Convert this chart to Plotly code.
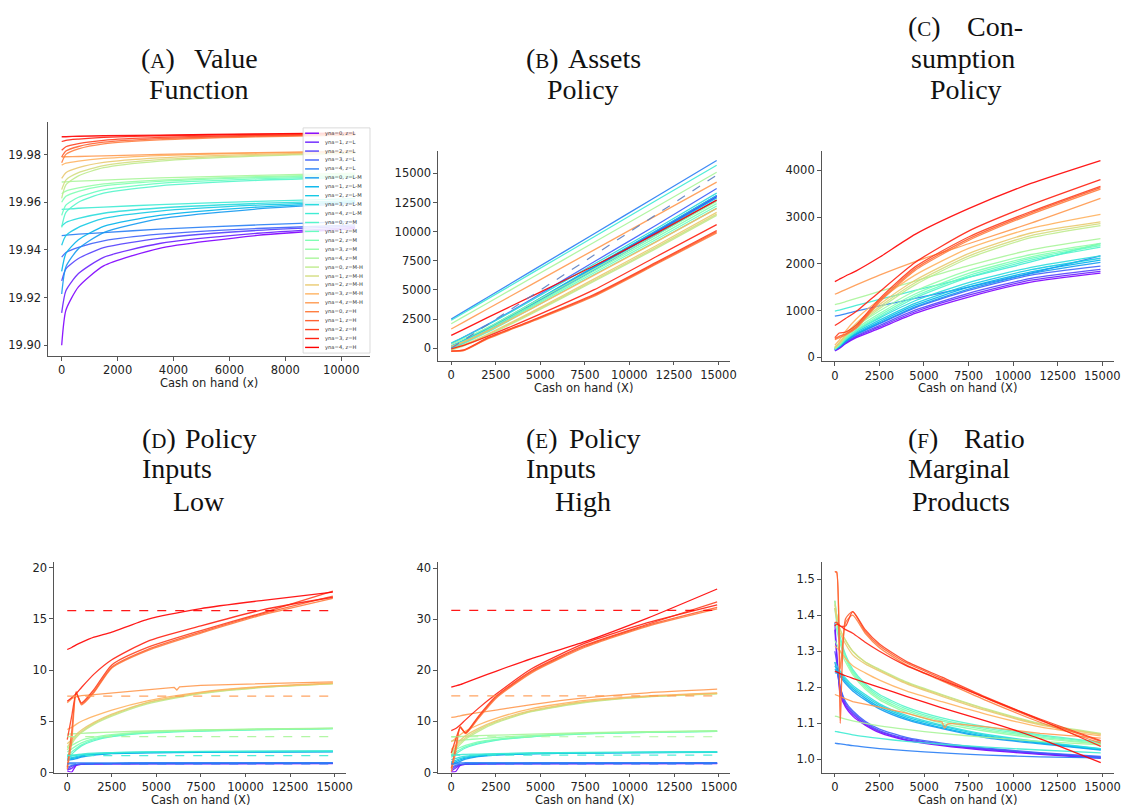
import math
import plotly.graph_objects as go

FIG_W, FIG_H = 1128, 809

YNA = [0, 1, 2, 3, 4]
Z_LEVELS = ["L", "L-M", "M", "M-H", "H"]

# ---------------- (A) value function ----------------
A_X = [0, 150, 600, 1500, 3500, 7000, 10500]
A_V = [
    [19.9000, 19.9147, 19.9245, 19.9333, 19.9407, 19.9461, 19.9490],
    [19.9136, 19.9229, 19.9301, 19.9369, 19.9427, 19.9470, 19.9495],
    [19.9270, 19.9321, 19.9364, 19.9410, 19.9449, 19.9482, 19.9500],
    [19.9370, 19.9389, 19.9411, 19.9438, 19.9466, 19.9490, 19.9505],
    [19.9460, 19.9462, 19.9466, 19.9473, 19.9487, 19.9505, 19.9520],
    [19.9215, 19.9329, 19.9405, 19.9473, 19.9530, 19.9572, 19.9595],
    [19.9310, 19.9385, 19.9443, 19.9499, 19.9545, 19.9580, 19.9600],
    [19.9420, 19.9460, 19.9495, 19.9532, 19.9563, 19.9588, 19.9603],
    [19.9500, 19.9515, 19.9532, 19.9554, 19.9576, 19.9595, 19.9607],
    [19.9570, 19.9571, 19.9575, 19.9580, 19.9590, 19.9604, 19.9615],
    [19.9495, 19.9558, 19.9600, 19.9638, 19.9669, 19.9692, 19.9705],
    [19.9545, 19.9588, 19.9621, 19.9652, 19.9679, 19.9698, 19.9710],
    [19.9600, 19.9625, 19.9646, 19.9669, 19.9688, 19.9704, 19.9713],
    [19.9636, 19.9647, 19.9660, 19.9677, 19.9693, 19.9708, 19.9717],
    [19.9685, 19.9686, 19.9689, 19.9693, 19.9702, 19.9713, 19.9722],
    [19.9616, 19.9673, 19.9711, 19.9745, 19.9773, 19.9794, 19.9805],
    [19.9653, 19.9693, 19.9724, 19.9754, 19.9779, 19.9797, 19.9808],
    [19.9700, 19.9724, 19.9745, 19.9767, 19.9786, 19.9801, 19.9810],
    [19.9756, 19.9764, 19.9773, 19.9784, 19.9796, 19.9806, 19.9812],
    [19.9790, 19.9791, 19.9792, 19.9795, 19.9801, 19.9808, 19.9814],
    [19.9766, 19.9801, 19.9824, 19.9845, 19.9862, 19.9875, 19.9882],
    [19.9790, 19.9815, 19.9834, 19.9852, 19.9867, 19.9878, 19.9885],
    [19.9818, 19.9833, 19.9846, 19.9860, 19.9872, 19.9881, 19.9887],
    [19.9855, 19.9860, 19.9865, 19.9872, 19.9879, 19.9885, 19.9889],
    [19.9875, 19.9875, 19.9877, 19.9879, 19.9882, 19.9887, 19.9891],
]

# ---------------- (B) assets policy ----------------
B_X = [0, 700, 2000, 4500, 8000, 11500, 14900]
B_V = [
    [-100, 450, 1500, 3700, 6850, 9950, 13000],
    [0, 530, 1580, 3760, 6900, 10000, 13050],
    [100, 620, 1660, 3830, 6960, 10050, 13100],
    [400, 950, 2000, 4200, 7400, 10550, 13700],
    [2500, 3140, 4330, 6610, 9800, 13000, 16100],
    [0, 500, 1500, 3650, 6700, 9720, 12700],
    [100, 600, 1600, 3750, 6850, 9900, 12900],
    [200, 700, 1700, 3850, 7000, 10080, 13100],
    [450, 950, 1950, 4100, 7200, 10250, 13300],
    [2400, 3025, 4190, 6420, 9545, 12670, 15700],
    [-50, 400, 1350, 3400, 6300, 9150, 12000],
    [50, 500, 1450, 3520, 6450, 9330, 12200],
    [150, 600, 1560, 3640, 6600, 9510, 12400],
    [350, 800, 1750, 3820, 6780, 9690, 12600],
    [2100, 2710, 3840, 6020, 9070, 12120, 15100],
    [-150, 200, 1050, 2950, 5720, 8550, 11400],
    [-100, 250, 1110, 3020, 5810, 8650, 11500],
    [-50, 300, 1180, 3100, 5930, 8790, 11650],
    [150, 550, 1450, 3400, 6250, 9120, 12000],
    [1650, 2240, 3340, 5460, 8420, 11380, 14250],
    [-250, -200, 780, 2280, 4450, 7200, 9900],
    [-250, -180, 820, 2330, 4520, 7280, 10000],
    [-250, -150, 860, 2380, 4600, 7360, 10100],
    [-50, 250, 1000, 2600, 5000, 7850, 10600],
    [1100, 1620, 2600, 4450, 7050, 9850, 12700],
]
B_REF_X = [0, 14900]
B_REF_Y = [0, 14850]

# ---------------- (C) consumption policy ----------------
C_X = [0, 250, 600, 1200, 2500, 4500, 7500, 11000, 14900]
C_V = [
    [140, 190, 290, 420, 620, 940, 1290, 1610, 1800],
    [150, 200, 305, 440, 650, 975, 1330, 1650, 1840],
    [160, 215, 320, 460, 680, 1010, 1370, 1690, 1880],
    [170, 230, 345, 490, 720, 1060, 1430, 1760, 1950],
    [880, 900, 930, 990, 1100, 1260, 1500, 1800, 2170],
    [160, 220, 335, 490, 730, 1080, 1460, 1790, 2030],
    [170, 235, 350, 510, 760, 1115, 1500, 1830, 2080],
    [180, 250, 370, 535, 795, 1155, 1545, 1875, 2120],
    [200, 275, 400, 570, 840, 1210, 1600, 1925, 2170],
    [990, 1010, 1045, 1110, 1240, 1430, 1710, 2040, 2440],
    [170, 245, 380, 560, 860, 1270, 1710, 2080, 2360],
    [180, 260, 400, 585, 895, 1310, 1750, 2115, 2390],
    [195, 280, 425, 615, 935, 1355, 1795, 2150, 2410],
    [215, 305, 460, 660, 990, 1420, 1860, 2200, 2440],
    [1130, 1150, 1190, 1260, 1410, 1630, 1960, 2300, 2540],
    [190, 280, 440, 660, 1040, 1550, 2120, 2560, 2820],
    [200, 295, 460, 690, 1080, 1595, 2165, 2605, 2860],
    [215, 315, 490, 730, 1130, 1650, 2220, 2660, 2900],
    [260, 370, 560, 820, 1230, 1760, 2330, 2760, 3060],
    [1350, 1390, 1450, 1550, 1760, 2050, 2430, 2870, 3400],
    [380, 420, 480, 620, 1180, 1860, 2500, 3060, 3600],
    [400, 450, 500, 650, 1210, 1895, 2535, 3090, 3630],
    [420, 520, 540, 690, 1250, 1935, 2575, 3120, 3660],
    [680, 740, 830, 980, 1400, 2030, 2700, 3260, 3800],
    [1620, 1670, 1740, 1850, 2140, 2630, 3180, 3720, 4210],
]

# ---------------- (D) policy inputs, low ----------------
D_X = [0, 250, 500, 800, 1500, 2500, 4500, 7500, 11000, 14900]
D_V = [
    [0.15, 0.05, 0.70, 0.80, 0.84, 0.85, 0.86, 0.87, 0.87, 0.88],
    [0.25, 0.40, 0.75, 0.81, 0.84, 0.86, 0.87, 0.875, 0.88, 0.885],
    [0.35, 0.60, 0.78, 0.82, 0.85, 0.865, 0.875, 0.88, 0.885, 0.89],
    [0.50, 0.70, 0.80, 0.83, 0.86, 0.87, 0.88, 0.885, 0.89, 0.895],
    [0.95, 0.95, 0.95, 0.95, 0.95, 0.95, 0.955, 0.955, 0.96, 0.96],
    [1.20, 1.25, 1.35, 1.50, 1.70, 1.85, 1.93, 1.97, 2.00, 2.02],
    [1.30, 1.35, 1.45, 1.58, 1.75, 1.88, 1.95, 1.99, 2.02, 2.04],
    [1.40, 1.45, 1.55, 1.65, 1.80, 1.90, 1.97, 2.01, 2.04, 2.06],
    [1.55, 1.60, 1.68, 1.75, 1.85, 1.93, 2.00, 2.04, 2.06, 2.08],
    [1.70, 1.72, 1.75, 1.80, 1.88, 1.95, 2.02, 2.06, 2.08, 2.10],
    [1.50, 1.80, 2.20, 2.60, 3.10, 3.50, 3.85, 4.05, 4.18, 4.28],
    [1.70, 2.00, 2.35, 2.70, 3.20, 3.55, 3.88, 4.07, 4.20, 4.29],
    [2.00, 2.30, 2.60, 2.90, 3.30, 3.62, 3.92, 4.10, 4.22, 4.30],
    [2.40, 2.65, 2.90, 3.15, 3.45, 3.70, 3.97, 4.13, 4.24, 4.31],
    [3.75, 3.77, 3.80, 3.83, 3.88, 3.95, 4.05, 4.16, 4.25, 4.32],
    [2.20, 2.80, 3.40, 3.90, 4.70, 5.50, 6.70, 7.70, 8.30, 8.65],
    [2.50, 3.00, 3.55, 4.00, 4.80, 5.60, 6.80, 7.75, 8.32, 8.67],
    [2.80, 3.20, 3.70, 4.15, 4.90, 5.70, 6.85, 7.80, 8.35, 8.70],
    [4.20, 4.40, 4.70, 5.00, 5.50, 6.10, 7.00, 7.85, 8.40, 8.75],
    None,
    [0.30, 3.00, 7.90, 6.60, 7.80, 10.20, 11.90, 13.60, 15.40, 17.00],
    [0.50, 4.00, 7.80, 6.70, 7.90, 10.30, 12.00, 13.70, 15.50, 17.20],
    [3.20, 5.50, 7.70, 6.80, 8.10, 10.50, 12.20, 13.85, 15.60, 17.70],
    [6.95, 7.30, 7.70, 8.30, 9.60, 11.00, 12.80, 14.30, 15.90, 17.10],
    [12.00, 12.20, 12.45, 12.70, 13.20, 13.70, 14.95, 16.00, 16.80, 17.60],
]
D_X19 = [0, 250, 500, 800, 1500, 2500, 4500, 6000, 6150, 6300, 7500, 11000, 14900]
D_V19 = [6.8, 7.2, 7.4, 7.5, 7.6, 7.75, 8.05, 8.3, 8.05, 8.35, 8.5, 8.7, 8.85]
D_REF = [0.85, 1.65, 3.5, 7.45, 15.8]

# ---------------- (E) policy inputs, high ----------------
E_X = [0, 250, 500, 800, 1500, 2500, 4500, 7500, 11000, 14900]
E_V = [
    [0.1, 0.2, 1.4, 1.6, 1.7, 1.72, 1.74, 1.75, 1.76, 1.77],
    [0.3, 0.9, 1.5, 1.62, 1.71, 1.73, 1.75, 1.76, 1.77, 1.78],
    [0.6, 1.2, 1.55, 1.65, 1.72, 1.74, 1.76, 1.77, 1.78, 1.79],
    [1.0, 1.4, 1.6, 1.68, 1.73, 1.75, 1.77, 1.78, 1.79, 1.80],
    [1.9, 1.9, 1.9, 1.91, 1.91, 1.92, 1.92, 1.93, 1.93, 1.94],
    [1.5, 1.8, 2.2, 2.6, 3.1, 3.4, 3.65, 3.8, 3.9, 3.97],
    [1.8, 2.1, 2.45, 2.8, 3.2, 3.48, 3.7, 3.83, 3.92, 3.99],
    [2.1, 2.4, 2.7, 3.0, 3.3, 3.55, 3.74, 3.86, 3.94, 4.00],
    [2.5, 2.75, 3.0, 3.2, 3.45, 3.63, 3.79, 3.89, 3.96, 4.02],
    [3.4, 3.45, 3.5, 3.55, 3.62, 3.7, 3.82, 3.92, 3.98, 4.04],
    [3.0, 3.6, 4.2, 4.8, 5.6, 6.3, 7.0, 7.55, 7.85, 8.05],
    [3.4, 4.0, 4.5, 5.0, 5.8, 6.4, 7.05, 7.6, 7.88, 8.07],
    [4.0, 4.5, 4.9, 5.3, 6.0, 6.5, 7.1, 7.63, 7.9, 8.10],
    [6.2, 6.25, 6.3, 6.4, 6.6, 6.85, 7.25, 7.7, 7.95, 8.12],
    [7.0, 7.0, 7.05, 7.1, 7.2, 7.3, 7.5, 7.8, 8.0, 8.15],
    [3.5, 4.5, 5.5, 6.5, 8.0, 9.7, 11.9, 13.7, 14.8, 15.4],
    [4.0, 5.0, 5.9, 6.8, 8.3, 9.9, 12.0, 13.8, 14.85, 15.45],
    [4.5, 5.4, 6.3, 7.2, 8.6, 10.1, 12.15, 13.9, 14.9, 15.5],
    [6.0, 6.7, 7.4, 8.1, 9.3, 10.6, 12.5, 14.1, 15.0, 15.6],
    [10.8, 10.9, 11.1, 11.3, 11.7, 12.2, 13.3, 14.6, 15.6, 16.3],
    [0.2, 4.0, 9.0, 7.6, 10.5, 14.5, 19.5, 24.5, 28.6, 32.0],
    [0.8, 5.0, 8.9, 7.7, 10.7, 14.7, 19.7, 24.7, 28.8, 32.3],
    [3.8, 6.5, 8.8, 7.8, 10.9, 14.9, 19.9, 24.9, 29.0, 33.4],
    [8.2, 8.6, 9.3, 10.3, 12.5, 15.3, 20.3, 25.3, 29.3, 32.8],
    [16.7, 16.95, 17.2, 17.6, 18.5, 19.8, 22.3, 25.6, 30.2, 35.9],
]
E_REF = [1.7, 3.4, 7.0, 15.0, 31.7]

# ---------------- (F) ratio of marginal products ----------------
F_X = [0, 100, 300, 600, 1000, 1700, 2500, 4000, 6000, 8500, 11500, 14900]
F_V = [
    [1.38, 1.30, 1.18, 1.145, 1.12, 1.095, 1.074, 1.053, 1.038, 1.025, 1.014, 1.003],
    [1.36, 1.29, 1.19, 1.15, 1.125, 1.098, 1.077, 1.055, 1.04, 1.027, 1.016, 1.005],
    [1.30, 1.27, 1.20, 1.155, 1.13, 1.102, 1.080, 1.058, 1.042, 1.029, 1.017, 1.006],
    [1.27, 1.25, 1.20, 1.16, 1.135, 1.106, 1.084, 1.061, 1.045, 1.031, 1.019, 1.008],
    [1.045, 1.044, 1.043, 1.041, 1.038, 1.034, 1.03, 1.024, 1.018, 1.012, 1.007, 1.004],
    [1.24, 1.24, 1.23, 1.21, 1.19, 1.165, 1.14, 1.11, 1.085, 1.06, 1.043, 1.026],
    [1.25, 1.245, 1.235, 1.215, 1.195, 1.17, 1.145, 1.114, 1.088, 1.063, 1.045, 1.027],
    [1.26, 1.25, 1.24, 1.22, 1.20, 1.175, 1.15, 1.118, 1.092, 1.066, 1.047, 1.029],
    [1.27, 1.26, 1.245, 1.225, 1.205, 1.18, 1.154, 1.122, 1.095, 1.069, 1.049, 1.03],
    [1.078, 1.077, 1.075, 1.072, 1.068, 1.063, 1.058, 1.05, 1.042, 1.034, 1.026, 1.018],
    [1.44, 1.40, 1.34, 1.29, 1.25, 1.21, 1.18, 1.145, 1.115, 1.09, 1.068, 1.048],
    [1.42, 1.38, 1.33, 1.285, 1.245, 1.205, 1.175, 1.14, 1.11, 1.086, 1.065, 1.046],
    [1.38, 1.36, 1.32, 1.28, 1.24, 1.20, 1.17, 1.135, 1.106, 1.082, 1.062, 1.044],
    [1.33, 1.32, 1.30, 1.27, 1.235, 1.195, 1.165, 1.13, 1.10, 1.078, 1.058, 1.042],
    [1.12, 1.119, 1.116, 1.112, 1.107, 1.10, 1.093, 1.083, 1.072, 1.061, 1.05, 1.04],
    [1.44, 1.40, 1.36, 1.33, 1.30, 1.27, 1.25, 1.215, 1.18, 1.14, 1.10, 1.072],
    [1.43, 1.40, 1.36, 1.33, 1.30, 1.27, 1.248, 1.213, 1.178, 1.138, 1.098, 1.07],
    [1.42, 1.39, 1.35, 1.32, 1.29, 1.265, 1.245, 1.21, 1.175, 1.135, 1.096, 1.069],
    [1.315, 1.31, 1.30, 1.28, 1.26, 1.24, 1.22, 1.19, 1.16, 1.125, 1.09, 1.065],
    None,
    [1.52, 1.52, 1.25, 1.38, 1.40, 1.35, 1.31, 1.262, 1.218, 1.163, 1.103, 1.045],
    [1.52, 1.52, 1.10, 1.39, 1.41, 1.355, 1.315, 1.268, 1.224, 1.169, 1.108, 1.05],
    [1.38, 1.38, 1.37, 1.37, 1.41, 1.36, 1.32, 1.272, 1.228, 1.172, 1.112, 1.052],
    [1.37, 1.375, 1.37, 1.36, 1.35, 1.325, 1.30, 1.26, 1.22, 1.17, 1.11, 1.036],
    [1.245, 1.243, 1.238, 1.232, 1.225, 1.213, 1.20, 1.175, 1.143, 1.106, 1.057, 0.991],
]
F_X19 = [0, 1000, 2500, 4000, 5500, 6000, 6150, 6300, 6500, 8500, 11500, 14900]
F_V19 = [1.18, 1.16, 1.145, 1.128, 1.108, 1.104, 1.086, 1.098, 1.100, 1.09, 1.072, 1.059]


def rainbow(t):
    """matplotlib 'rainbow' colormap."""
    r = min(1.0, abs(2 * t - 0.5))
    g = max(0.0, math.sin(math.pi * t))
    b = max(0.0, math.cos(math.pi * t / 2))
    return "rgb(%d,%d,%d)" % (round(r * 255), round(g * 255), round(b * 255))


N = len(Z_LEVELS) * len(YNA)
COLORS = [rainbow(i / (N - 1)) for i in range(N)]
LABELS = ["yna=%d, z=%s" % (y, z) for z in Z_LEVELS for y in YNA]


def dom_x(left, right):
    return [left / FIG_W, right / FIG_W]


def dom_y(top, bottom):
    return [1 - bottom / FIG_H, 1 - top / FIG_H]


# pixel boxes of the six plotting areas: (left, right, top, bottom)
BOXES = [
    (48.3, 372.0, 121.3, 358.0),
    (440.7, 734.5, 150.7, 362.7),
    (826.7, 1120.7, 150.7, 363.3),
    (54.3, 348.3, 566.7, 779.2),
    (440.7, 735.0, 566.7, 779.2),
    (826.7, 1121.0, 566.7, 779.2),
]
X_RANGES = [[-490, 11020]] + [[-745, 15645]] * 5
Y_RANGES = [[19.8955, 19.9937], [-1067, 16917], [-84, 4414],
            [0, 20.5], [0, 41.1], [0.9635, 1.5465]]
X_DTICK = [2000, 2500, 2500, 2500, 2500, 2500]
Y_DTICK = [0.02, 2500, 1000, 5, 10, 0.1]
Y_FMT = [".2f", "d", "d", "d", "d", ".1f"]

fig = go.Figure()

LW = 1.3
SMOOTH = 0.6


def add_series(panel, xs, ys, color, dash="solid", width=LW, shape="spline"):
    ax = "" if panel == 0 else str(panel + 1)
    fig.add_trace(go.Scatter(
        x=xs, y=ys, mode="lines",
        line=dict(color=color, width=width, dash=dash, shape=shape,
                  smoothing=SMOOTH if shape == "spline" else None),
        opacity=0.9, showlegend=False, hoverinfo="skip",
        xaxis="x" + ax, yaxis="y" + ax,
    ))


for i in range(N):
    add_series(0, A_X, A_V[i], COLORS[i])
for i in range(N):
    add_series(1, B_X, B_V[i], COLORS[i])
add_series(1, B_REF_X, B_REF_Y, "#5b7fc4", dash="dash", width=1.2, shape="linear")
for i in range(N):
    add_series(2, C_X, C_V[i], COLORS[i])
for i in range(N):
    if D_V[i] is None:
        add_series(3, D_X19, D_V19, COLORS[i], shape="linear")
    else:
        add_series(3, D_X, D_V[i], COLORS[i])
for k, lvl in enumerate(D_REF):
    add_series(3, [D_X[0], D_X[-1]], [lvl, lvl], COLORS[k * 5 + 4], dash="dash",
               width=1.2, shape="linear")
for i in range(N):
    add_series(4, E_X, E_V[i], COLORS[i])
for k, lvl in enumerate(E_REF):
    add_series(4, [E_X[0], E_X[-1]], [lvl, lvl], COLORS[k * 5 + 4], dash="dash",
               width=1.2, shape="linear")
for i in range(N):
    if F_V[i] is None:
        add_series(5, F_X19, F_V19, COLORS[i], shape="linear")
    else:
        add_series(5, F_X, F_V[i], COLORS[i])

TICK_FONT = dict(family="DejaVu Sans, sans-serif", size=11.5, color="#222")
layout = dict(
    width=FIG_W, height=FIG_H, margin=dict(l=0, r=0, t=0, b=0),
    paper_bgcolor="white", plot_bgcolor="white", showlegend=False,
)
for p, (l, r, t, b) in enumerate(BOXES):
    ax = "" if p == 0 else str(p + 1)
    layout["xaxis" + ax] = dict(
        domain=dom_x(l, r), range=X_RANGES[p], anchor="y" + ax,
        tick0=0, dtick=X_DTICK[p], tickformat="d",
        showgrid=False, zeroline=False,
        showline=True, linecolor="#555", linewidth=1,
        ticks="outside", ticklen=3.5, tickcolor="#555", tickfont=TICK_FONT,
    )
    layout["yaxis" + ax] = dict(
        domain=dom_y(t, b), range=Y_RANGES[p], anchor="x" + ax,
        tick0=0, dtick=Y_DTICK[p], tickformat=Y_FMT[p],
        showgrid=False, zeroline=False,
        showline=True, linecolor="#555", linewidth=1,
        ticks="outside", ticklen=3.5, tickcolor="#555", tickfont=TICK_FONT,
    )
fig.update_layout(**layout)

annotations = []
shapes = []


def text_px(x, y, txt, size, anchor="center", family="Liberation Serif, serif", color="#111"):
    annotations.append(dict(
        x=x / FIG_W, y=1 - y / FIG_H, xref="paper", yref="paper",
        text=txt, showarrow=False, xanchor=anchor, yanchor="middle",
        font=dict(family=family, size=size, color=color),
    ))


def sc(letter):
    return "(<span style='font-size:21px'>%s</span>)" % letter


TS = 28
# panel captions
text_px(140, 57, sc("A"), TS, "left"); text_px(262, 57, "Value", TS, "right")
text_px(200, 88, "Function", TS)
text_px(527, 57, sc("B"), TS, "left"); text_px(647, 57, "Assets", TS, "right")
text_px(587, 88, "Policy", TS)
text_px(912, 25, sc("C"), TS, "left"); text_px(1031, 25, "Con-", TS, "right")
text_px(969, 57, "sumption", TS)
text_px(972, 88, "Policy", TS)
text_px(141, 441, sc("D"), TS, "left"); text_px(261, 441, "Policy", TS, "right")
text_px(141, 472, "Inputs", TS, "left")
text_px(200, 505, "Low", TS)
text_px(527, 441, sc("E"), TS, "left"); text_px(647, 441, "Policy", TS, "right")
text_px(527, 472, "Inputs", TS, "left")
text_px(587, 505, "High", TS)
text_px(912, 441, sc("F"), TS, "left"); text_px(1033, 441, "Ratio", TS, "right")
text_px(912, 472, "Marginal", TS, "left")
text_px(967, 505, "Products", TS)

# axis titles
XT_FONT = "DejaVu Sans, sans-serif"
text_px(210, 385.5, "Cash on hand (x)", 11.5, family=XT_FONT, color="#222")
for (l, r, t, b) in BOXES[1:]:
    text_px((l + r) / 2, b + 27.5, "Cash on hand (X)", 11.5, family=XT_FONT, color="#222")

# legend of panel (A)
LEG_L, LEG_R, LEG_T, LEG_B = 305, 372.3, 127.3, 355
shapes.append(dict(type="rect", xref="paper", yref="paper",
                   x0=LEG_L / FIG_W, x1=LEG_R / FIG_W,
                   y0=1 - LEG_B / FIG_H, y1=1 - LEG_T / FIG_H,
                   line=dict(color="#d0d0d0", width=0.8),
                   fillcolor="rgba(255,255,255,0.85)", layer="above"))
row0, step = 132.7, (349.3 - 132.7) / (N - 1)
for i in range(N):
    yc = row0 + i * step
    shapes.append(dict(type="line", xref="paper", yref="paper",
                       x0=307 / FIG_W, x1=321 / FIG_W,
                       y0=1 - yc / FIG_H, y1=1 - yc / FIG_H,
                       line=dict(color=COLORS[i], width=1.4), layer="above"))
    text_px(325, yc, LABELS[i], 5.2, "left", family=XT_FONT, color="#333")

fig.update_layout(annotations=annotations, shapes=shapes)
fig.write_html(
    "out.html",
    post_script="document.body.style.margin='0';document.body.style.overflow='hidden';",
)
